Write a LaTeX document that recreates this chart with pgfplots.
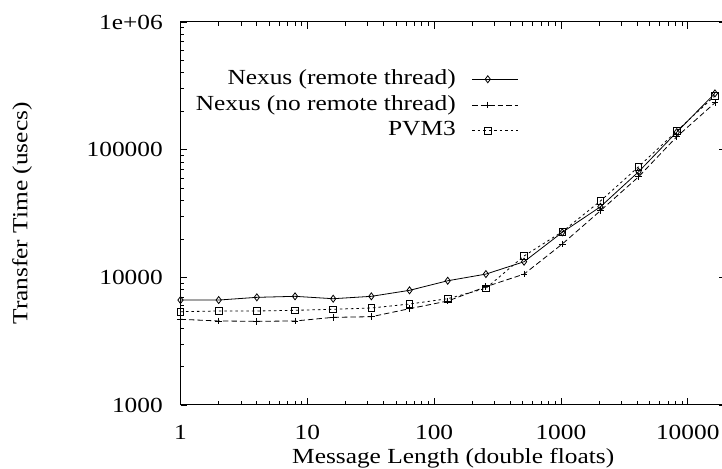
\documentclass[border=0pt]{standalone}
\usepackage{fontspec}
\setmainfont{Liberation Serif}[FakeStretch=1.18]
\usepackage{pgfplots}
\usepackage{pgfplotstable}
\pgfplotsset{compat=1.18}

% message length (doubles) vs transfer time (usecs)
\pgfplotstableread{
x     remote  noremote  pvm
1     6640    4690      5380
2     6640    4550      5450
4     6970    4525      5450
8     7100    4550      5515
16    6800    4860      5620
32    7100    4915      5750
64    7910    5680      6180
128   9400    6520      6800
256   10600   8440      8200
512   13250   10600     14700
1024  22500   18230     22750
2048  35700   33230     39600
4096  67100   61300     73500
8192  137300  126200    139800
16384 276000  232800    264400
}\timings

\begin{document}
\begin{tikzpicture}[font=\fontsize{21.5}{25}\selectfont]
\begin{scope}
\clip (0pt,0pt) rectangle (722pt,468pt);
\begin{axis}[
    at={(180.5pt,63pt)}, anchor=south west,
    scale only axis, width=545.4pt, height=383pt,
    xmode=log, ymode=log,
    xmin=1, xmax=20000, ymin=1000, ymax=1000000,
    clip=false,
    axis line style={line width=1pt},
    tick style={line width=0.8pt, black},
    major tick length=7pt, minor tick length=4pt,
    xtick={1,10,100,1000,10000},
    xticklabels={1,10,100,1000,10000},
    minor xtick={2,3,4,5,6,7,8,9,20,30,40,50,60,70,80,90,200,300,400,500,600,700,800,900,2000,3000,4000,5000,6000,7000,8000,9000},
    ytick={1000,10000,100000,1000000},
    yticklabels={1000,10000,100000,1e+06},
    minor ytick={2000,3000,4000,5000,6000,7000,8000,9000,20000,30000,40000,50000,60000,70000,80000,90000,200000,300000,400000,500000,600000,700000,800000,900000},
    xticklabel style={anchor=base, inner sep=0pt, yshift=-34.3pt},
    yticklabel style={anchor=east, inner sep=0pt, xshift=-17.5pt},
    xlabel={Message Length (double floats)},
    xlabel style={at={(axis description cs:0.5,0)}, anchor=base, yshift=-58.3pt},
    ylabel={Transfer Time (usecs)},
    ylabel style={at={(axis description cs:-0.2906,0.5)}, anchor=center},
    legend style={draw=none, fill=none, at={(axis description cs:0.625,0.885)}, anchor=north east,
        row sep=3.8pt, column sep=16pt, nodes={inner sep=0pt, text height=16pt, text depth=6pt}},
    legend cell align=right,
    legend plot pos=right,
    legend image code/.code={
        \draw[#1] (0pt,0pt) -- (45.6pt,0pt);
        \draw[#1, only marks] plot coordinates {(15.6pt,0pt)};
    },
]
\addplot[black, line width=0.8pt, mark=diamond, mark size=3.5pt, mark options={solid}]
    table[x=x, y=remote] {\timings};
\addlegendentry{Nexus (remote thread)}
\addplot[black, line width=0.8pt, dash pattern=on 5.5pt off 3pt, mark=+, mark size=3.4pt, mark options={solid}]
    table[x=x, y=noremote] {\timings};
\addlegendentry{Nexus (no remote thread)}
\addplot[black, line width=0.8pt, dash pattern=on 2.5pt off 3pt, mark=square, mark size=3.3pt, mark options={solid}]
    table[x=x, y=pvm] {\timings};
\addlegendentry{PVM3}
\end{axis}
\end{scope}
\pgfresetboundingbox
\useasboundingbox (0pt,0pt) rectangle (722pt,468pt);
\end{tikzpicture}
\end{document}
